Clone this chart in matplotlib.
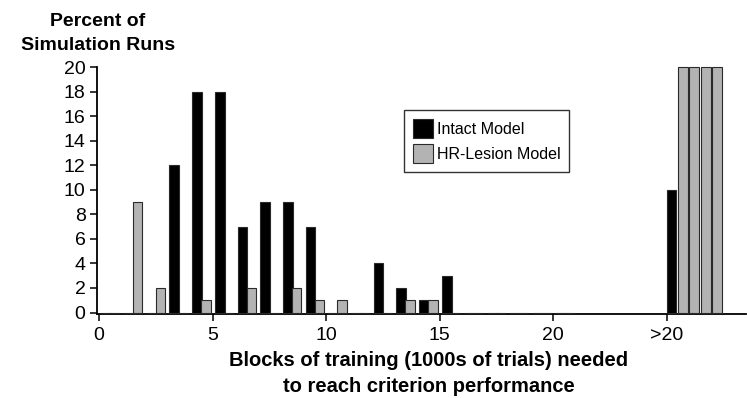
import numpy as np
import matplotlib
matplotlib.use('Agg')
import matplotlib.pyplot as plt
from matplotlib.patches import Patch

plt.rcParams['font.family'] = ['Liberation Sans', 'DejaVu Sans']

# training blocks 0..20, plus the overflow bin shown as ">20"
blocks = np.arange(0, 21)
intact = [0, 0, 0, 12, 18, 18, 7, 9, 9, 7, 0, 0, 4, 2, 1, 3, 0, 0, 0, 0, 0]
lesion = [0, 9, 2, 0, 1, 0, 2, 0, 2, 1, 1, 0, 0, 1, 1, 0, 0, 0, 0, 0, 0]
intact_over = 10
lesion_over = 80
over_pos = 25
tick_pos = [0, 5, 10, 15, 20, over_pos]
tick_labels = ['0', '5', '10', '15', '20', '>20']

BLACK = '#000000'
GREY = '#b3b3b3'
EDGE = '#2a2a2a'
YMAX = 20

fig = plt.figure(figsize=(7.47, 3.98), dpi=100)
ax = fig.add_axes([97/747, 1 - 314/398, 649/747, 247/398])

ax.bar(blocks + 0.1, intact, width=0.43, align='edge', color=BLACK,
       edgecolor=EDGE, linewidth=0.8, zorder=3)
ax.bar(blocks + 0.5, lesion, width=0.41, align='edge', color=GREY,
       edgecolor=EDGE, linewidth=0.8, zorder=3)

# overflow bin: the lesion value runs past the axis top, so it is split
# into side-by-side bars of full axis height
ax.bar(over_pos, intact_over, width=0.43, align='edge', color=BLACK,
       edgecolor=EDGE, linewidth=0.8, zorder=3)
n_split = int(np.ceil(lesion_over / YMAX))
split_vals = [min(YMAX, lesion_over - YMAX * i) for i in range(n_split)]
ax.bar(over_pos + 0.5 + 0.5 * np.arange(n_split), split_vals, width=0.44,
       align='edge', color=GREY, edgecolor=EDGE, linewidth=0.8, zorder=3,
       clip_on=False)

# a touch below zero so the empty bins still show as flat stubs
ax.set_xlim(-0.09, 28.5)
ax.set_ylim(-0.12, YMAX)
ax.set_yticks(np.arange(0, 21, 2))
ax.set_xticks(tick_pos)
ax.set_xticklabels(tick_labels)
ax.tick_params(axis='both', direction='out', length=5, width=1.1,
               labelsize=14, color='black')
ax.tick_params(axis='x', pad=4)
ax.tick_params(axis='y', pad=3.2)
for s in ['top', 'right']:
    ax.spines[s].set_visible(False)
for s in ['left', 'bottom']:
    ax.spines[s].set_linewidth(1.3)

handles = [Patch(facecolor=BLACK, edgecolor=EDGE, linewidth=0.8),
           Patch(facecolor=GREY, edgecolor=EDGE, linewidth=0.8)]
leg = ax.legend(handles, ['Intact Model', 'HR-Lesion Model'],
                loc='upper left', bbox_to_anchor=(0.473, 0.826),
                borderaxespad=0, fontsize=11.5, fancybox=False,
                handlelength=1.25, handleheight=1.5, handletextpad=0.25,
                labelspacing=0.35, borderpad=0.55)
leg.get_frame().set_edgecolor('black')
leg.get_frame().set_linewidth(1.0)

def fig_line(x, y, s, size=14):
    fig.text(x / 747, 1 - y / 398, s, ha='center', va='baseline',
             fontsize=size, fontweight='bold')

fig_line(98, 26, 'Percent of')
fig_line(98, 50, 'Simulation Runs')
fig_line(429, 366.5, 'Blocks of training (1000s of trials) needed', 14.5)
fig_line(429, 392, 'to reach criterion performance', 14.5)

fig.savefig('out.png', dpi=100)
